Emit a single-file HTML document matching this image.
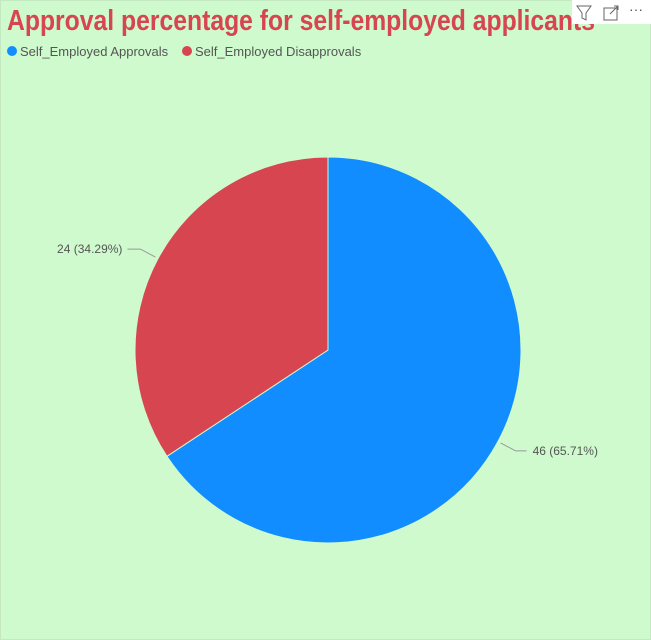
<!DOCTYPE html>
<html><head><meta charset="utf-8"><style>
html,body{margin:0;padding:0;width:651px;height:640px;overflow:hidden;background:#cffacd;}
svg{display:block;font-family:"Liberation Sans",sans-serif;}
</style></head><body>
<svg width="651" height="640">
<rect x="0" y="0" width="651" height="640" fill="#cffacd"/>
<rect x="0.5" y="0.5" width="650" height="639" fill="none" stroke="#c4e8c2"/>
<text x="7" y="30" font-size="29" font-weight="bold" fill="#d64550" textLength="588" lengthAdjust="spacingAndGlyphs">Approval percentage for self-employed applicants</text>
<g>
<rect x="572" y="0" width="79" height="24" fill="#ffffff"/>
<path d="M577 6 L591 6 L586 13 L586 20 L582 18 L582 13 Z" fill="none" stroke="#666" stroke-width="1"/>
<g><rect x="604" y="8" width="13" height="12" fill="none" stroke="#666"/><path d="M610 14 L618 6 M614 6 L618 6 L618 10" fill="none" stroke="#666"/></g>
<text x="629" y="14" font-size="14" fill="#555">···</text>
</g>
<g>
<circle cx="12" cy="51" r="5" fill="#118dff"/>
<text x="20" y="56" font-size="13" fill="#555">Self_Employed Approvals</text>
<circle cx="187" cy="51" r="5" fill="#d64550"/>
<text x="195" y="56" font-size="13" fill="#555">Self_Employed Disapprovals</text>
</g>
<g id="pie"></g>
</svg>
<script>
const categories = ["Self_Employed Approvals", "Self_Employed Disapprovals"];
const values = [46, 24];
const colors = ["#118dff", "#d64550"];
const cx = 328, cy = 350, r = 193;
const total = values.reduce((a, b) => a + b, 0);
const g = document.getElementById('pie');
const ns = 'http://www.w3.org/2000/svg';
function pt(a, rr) { return [cx + rr * Math.sin(a), cy - rr * Math.cos(a)]; }
let start = 0;
values.forEach((v, i) => {
  const frac = v / total;
  const end = start + frac * 2 * Math.PI;
  const p0 = pt(start, r), p1 = pt(end, r);
  const large = frac > 0.5 ? 1 : 0;
  const path = document.createElementNS(ns, 'path');
  path.setAttribute('d', `M${cx},${cy} L${p0[0]},${p0[1]} A${r},${r} 0 ${large} 1 ${p1[0]},${p1[1]} Z`);
  path.setAttribute('fill', colors[i]);
  path.setAttribute('stroke', '#cffacd');
  path.setAttribute('stroke-width', '1');
  
  
  g.appendChild(path);
  const mid = (start + end) / 2;
  const e = pt(mid, r + 3), k = pt(mid, r + 20);
  const right = Math.sin(mid) >= 0;
  const hx = k[0] + (right ? 11 : -13);
  const line = document.createElementNS(ns, 'polyline');
  line.setAttribute('points', `${e[0]},${e[1]} ${k[0]},${k[1]} ${hx},${k[1]}`);
  line.setAttribute('fill', 'none');
  line.setAttribute('stroke', '#999');
  
  
  g.appendChild(line);
  const t = document.createElementNS(ns, 'text');
  t.setAttribute('x', right ? hx + 6 : hx - 5);
  t.setAttribute('y', k[1] + 4);
  t.setAttribute('font-size', '12');
  t.setAttribute('fill', '#555');
  t.setAttribute('text-anchor', right ? 'start' : 'end');
  
  
  t.textContent = `${v} (${(frac * 100).toFixed(2)}%)`;
  g.appendChild(t);
  start = end;
});
</script>
</body></html>
